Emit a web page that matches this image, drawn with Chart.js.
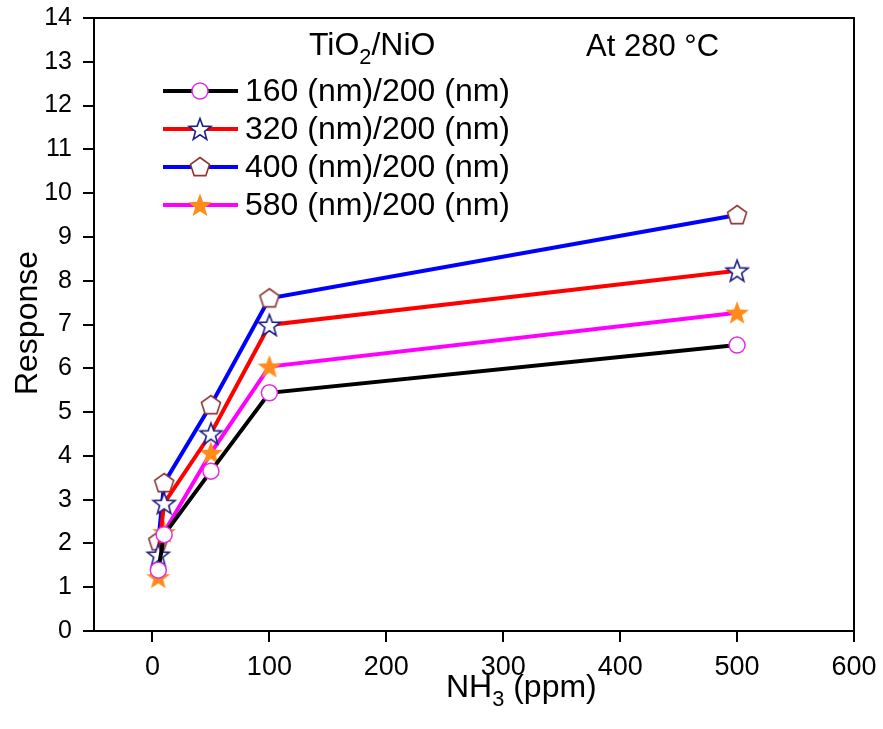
<!DOCTYPE html>
<html>
<head>
<meta charset="utf-8">
<script src="https://cdn.jsdelivr.net/npm/chart.js@4"></script>
<style>
  html, body { margin: 0; padding: 0; background: #fff; }
  #wrap { width: 883px; height: 729px; }
</style>
</head>
<body>
<div id="wrap"><canvas id="responseChart" width="883" height="729"></canvas></div>
<script>
// NH3 concentration (ppm) and sensor response for each TiO2/NiO thickness ratio
const ppm = [5, 10, 50, 100, 500];
const r160 = [1.39, 2.20, 3.65, 5.44, 6.53];
const r320 = [1.74, 2.92, 4.51, 6.99, 8.23];
const r400 = [2.05, 3.38, 5.16, 7.60, 9.50];
const r580 = [1.23, 2.26, 4.07, 6.04, 7.27];
const seriesNames = ['160 (nm)/200 (nm)', '320 (nm)/200 (nm)', '400 (nm)/200 (nm)', '580 (nm)/200 (nm)'];
const xTicks = [0, 100, 200, 300, 400, 500, 600];

const FONT = '"Liberation Sans", Arial, sans-serif';

// marker images
function makeMarker(draw, size) {
    const c = document.createElement('canvas');
    c.width = size; c.height = size;
    const g = c.getContext('2d');
    draw(g, size / 2);
    return c;
}
function polyPath(g, cx, cy, n, rOut, rIn) {
    g.beginPath();
    const pts = rIn ? n * 2 : n;
    for (let i = 0; i < pts; i++) {
        const r = rIn && i % 2 ? rIn : rOut;
        const a = -Math.PI / 2 + i * Math.PI * 2 / pts;
        const px = cx + r * Math.cos(a), py = cy + r * Math.sin(a);
        i ? g.lineTo(px, py) : g.moveTo(px, py);
    }
    g.closePath();
}
const starOpen = makeMarker((g, c) => {
    polyPath(g, c, c + 1, 5, 11.5, 4.8);
    g.fillStyle = '#fff'; g.fill();
    g.lineWidth = 1.6; g.strokeStyle = '#1c1f86'; g.stroke();
}, 28);
const pentagon = makeMarker((g, c) => {
    polyPath(g, c, c + 0.5, 5, 10);
    g.fillStyle = '#fff'; g.fill();
    g.lineWidth = 1.6; g.strokeStyle = '#8b3535'; g.stroke();
}, 26);
const starFilled = makeMarker((g, c) => {
    polyPath(g, c, c + 1, 5, 12.5, 5.2);
    g.fillStyle = '#ff8c1a'; g.fill();
}, 28);

const colors = ['#000000', '#ff0000', '#0000ff', '#ff00ff'];
const markers = ['circle', starOpen, pentagon, starFilled];
const values = [r160, r320, r400, r580];

const datasets = values.map((vals, i) => ({
    label: seriesNames[i],
    data: ppm.map((x, j) => ({ x: x, y: vals[j] })),
    borderColor: colors[i],
    borderWidth: 4,
    pointStyle: markers[i],
    pointRadius: 8,
    pointBorderWidth: 1.5,
    pointBorderColor: i === 0 ? '#e22ee2' : colors[i],
    pointBackgroundColor: '#ffffff',
    tension: 0
}));

function drawSub(ctx, parts, x, y, size) {
    // parts: [text, isSub]
    let cx = x;
    parts.forEach(([t, sub]) => {
        ctx.font = (sub ? size * 0.68 : size) + 'px ' + FONT;
        ctx.fillText(t, cx, sub ? y + size * 0.28 : y);
        cx += ctx.measureText(t).width;
    });
}

const decorPlugin = {
    id: 'decor',
    afterDraw(chart) {
        const { ctx, chartArea: a } = chart;
        ctx.save();
        ctx.strokeStyle = '#000';
        ctx.lineWidth = 2;
        ctx.strokeRect(a.left, a.top, a.right - a.left, a.bottom - a.top);

        ctx.fillStyle = '#000';
        ctx.textBaseline = 'alphabetic';
        ctx.textAlign = 'left';
        drawSub(ctx, [['TiO', false], ['2', true], ['/NiO', false]], 309, 55, 32);
        ctx.font = '31px ' + FONT;
        ctx.fillText('At 280 \u00B0C', 586, 56);

        // legend
        const rowY = [91, 129, 167, 205];
        rowY.forEach((y, i) => {
            ctx.strokeStyle = colors[i];
            ctx.lineWidth = 4;
            ctx.beginPath();
            ctx.moveTo(163, y); ctx.lineTo(238, y);
            ctx.stroke();
            const m = markers[i];
            if (m === 'circle') {
                ctx.beginPath();
                ctx.arc(200, y, 8, 0, Math.PI * 2);
                ctx.fillStyle = '#fff'; ctx.fill();
                ctx.lineWidth = 1.5; ctx.strokeStyle = '#e22ee2'; ctx.stroke();
            } else {
                ctx.drawImage(m, 200 - m.width / 2, y - m.height / 2);
            }
            ctx.fillStyle = '#000';
            ctx.font = '32px ' + FONT;
            ctx.textBaseline = 'middle';
            ctx.fillText(seriesNames[i], 245, y + 1);
        });

        // axis titles
        ctx.textBaseline = 'alphabetic';
        drawSub(ctx, [['NH', false], ['3', true], [' (ppm)', false]], 446, 697, 32);
        ctx.translate(37, 323);
        ctx.rotate(-Math.PI / 2);
        ctx.textAlign = 'center';
        ctx.font = '32px ' + FONT;
        ctx.fillText('Response', 0, 0);
        ctx.restore();
    }
};

new Chart(document.getElementById('responseChart'), {
    type: 'line',
    data: { datasets: datasets },
    options: {
        responsive: false,
        animation: false,
        events: [],
        layout: { padding: { top: 18, right: 29, left: 0, bottom: 0 } },
        plugins: { legend: { display: false }, tooltip: { enabled: false } },
        scales: {
            x: {
                type: 'linear',
                min: -50,
                max: 600,
                afterBuildTicks: s => { s.ticks = xTicks.map(v => ({ value: v })); },
                afterFit: s => { s.height = 98; s.paddingLeft = 0; s.paddingRight = 0; },
                grid: { drawOnChartArea: false, drawTicks: true, tickLength: 11, color: '#000', lineWidth: 2 },
                border: { color: '#000', width: 2 },
                ticks: { color: '#000', font: { family: FONT, size: 27 }, padding: 9, maxRotation: 0 }
            },
            y: {
                min: 0,
                max: 14,
                afterFit: s => { s.width = 94; s.paddingTop = 0; s.paddingBottom = 0; },
                grid: { drawOnChartArea: false, drawTicks: true, tickLength: 11, color: '#000', lineWidth: 2 },
                border: { color: '#000', width: 2 },
                ticks: { stepSize: 1, color: '#000', font: { family: FONT, size: 25 }, padding: 11 }
            }
        }
    },
    plugins: [decorPlugin]
});
</script>
</body>
</html>
